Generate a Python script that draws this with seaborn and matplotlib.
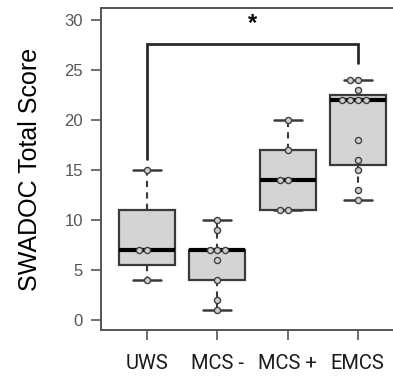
import numpy as np
import pandas as pd
import matplotlib
matplotlib.use("Agg")
import matplotlib.pyplot as plt
import seaborn as sns

# ---- data ----
groups = ["UWS", "MCS -", "MCS +", "EMCS"]
uws = [4, 7, 7, 15]
mcs_minus = [1, 2, 4, 6, 7, 7, 7, 9, 10]
mcs_plus = [11, 11, 14, 14, 17, 20]
emcs = [12, 13, 15, 16, 18, 22, 22, 22, 22, 23, 24, 24]
yticks = [0, 5, 10, 15, 20, 25, 30]
ylabel = "SWADOC Total Score"
sig_pair = ("UWS", "EMCS")
sig_label = "*"
sig_left_bottom = 16.1
sig_top = 27.6
sig_right_bottom = 25.7

values = [uws, mcs_minus, mcs_plus, emcs]
df = pd.DataFrame({
    "group": np.repeat(groups, [len(v) for v in values]),
    "score": np.concatenate(values),
})


def fivenum(x):
    x = np.sort(np.asarray(x, float))
    n = len(x)
    n4 = np.floor((n + 3) / 2) / 2
    d = np.array([1, n4, (n + 1) / 2, n + 1 - n4, n])
    return 0.5 * (x[np.floor(d).astype(int) - 1] + x[np.ceil(d).astype(int) - 1])


stats = []
for g, v in zip(groups, values):
    lo, q1, med, q3, hi = fivenum(v)
    iqr = q3 - q1
    arr = np.asarray(v, float)
    wlo = arr[arr >= q1 - 1.5 * iqr].min()
    whi = arr[arr <= q3 + 1.5 * iqr].max()
    stats.append(dict(med=med, q1=q1, q3=q3, whislo=wlo, whishi=whi, fliers=[], label=g))

sns.set_theme(style="ticks")
plt.rcParams["font.family"] = ["Liberation Sans", "DejaVu Sans"]

fig = plt.figure(figsize=(3.93, 3.76), dpi=100)
ax = fig.add_axes([101 / 393, 46 / 376, 303 / 393, 322 / 376])

edge = "#3a3a3a"
ax.bxp(stats, positions=range(len(groups)), widths=0.8, capwidths=0.4,
       patch_artist=True, showfliers=False, manage_ticks=False,
       boxprops=dict(facecolor="#d4d4d4", edgecolor=edge, linewidth=1.6),
       medianprops=dict(color="black", linewidth=3.0),
       whiskerprops=dict(color=edge, linewidth=1.5, linestyle=(0, (3, 2.5))),
       capprops=dict(color=edge, linewidth=1.8))

sns.swarmplot(data=df, x="group", y="score", order=groups, ax=ax,
              size=4.4, color="#d0d0d0", edgecolor="#404040", linewidth=1.0,
              zorder=5)

# significance bracket
x1 = groups.index(sig_pair[0])
x2 = groups.index(sig_pair[1])
ax.plot([x1, x1, x2, x2], [sig_left_bottom, sig_top, sig_top, sig_right_bottom],
        color="#2a2a2a", linewidth=2.0, solid_joinstyle="miter", zorder=4)
ax.text((x1 + x2) / 2, sig_top + 0.9, sig_label, ha="center", va="bottom",
        fontsize=17, fontweight="bold", color="black")

ax.set_xlim(-0.66, 3.66)
ax.set_ylim(-1.0, 31.2)
ax.set_yticks(yticks)
ax.set_yticklabels([str(t) for t in yticks])
ax.set_xlabel("")
ax.set_ylabel(ylabel, fontsize=18, color="black", labelpad=16)

for s in ax.spines.values():
    s.set_color("#555555")
    s.set_linewidth(1.4)
ax.spines["right"].set_visible(False)

ax.tick_params(axis="y", length=7, width=1.2, color="#555555", labelsize=12,
               labelcolor="#555555", pad=6)
ax.tick_params(axis="x", length=7, width=1.2, color="#555555", labelsize=14.5,
               labelcolor="#1a1a1a", pad=10)
for lab in ax.get_xticklabels():
    lab.set_fontfamily(["Roboto", "DejaVu Sans"])

fig.savefig("out.png", dpi=100)
